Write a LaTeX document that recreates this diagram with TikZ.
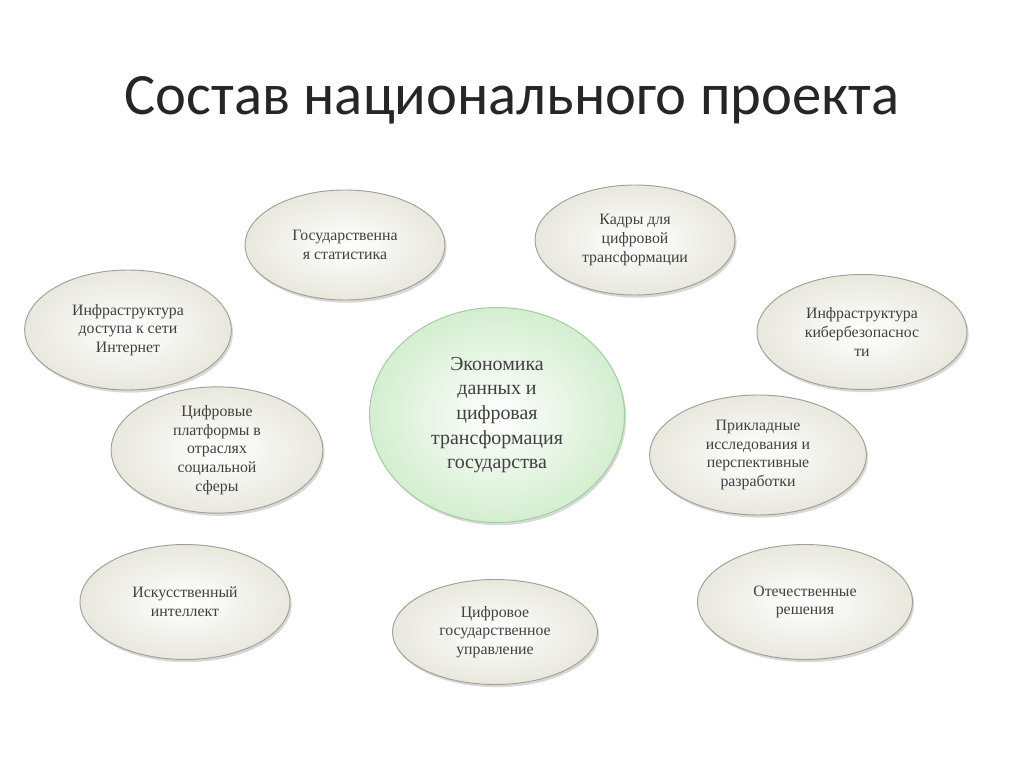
\documentclass[tikz,border=0pt]{standalone}
\usepackage{fontspec}
\setmainfont{Liberation Serif}
\newfontfamily\titlefont{Carlito}
\usetikzlibrary{shadows,shapes.geometric}
\definecolor{ebord}{RGB}{160,160,150}
\definecolor{efill}{RGB}{232,232,222}
\definecolor{gfill}{RGB}{212,238,208}
\definecolor{gbord}{RGB}{160,205,160}
\tikzset{
  oval/.style={ellipse,draw=ebord,line width=0.8pt,inner color=white,outer color=efill,
    drop shadow={shadow xshift=0.5mm,shadow yshift=-0.8mm,opacity=0.3},
    align=center,font=\fontsize{13.5pt}{16pt}\selectfont,text=black!75,inner sep=0pt},
}
\begin{document}
\begin{tikzpicture}[x=0.03cm,y=-0.03cm]
\useasboundingbox[fill=white] (0,0) rectangle (1024,767);
\node[font=\titlefont\fontsize{50pt}{54pt}\selectfont,text=black!85] (title) at (512,100) {Состав национального проекта};
\node[oval,minimum width=6cm,minimum height=3.3cm] (a) at (345,245) {Государственна\\я статистика};
\node[oval,minimum width=6cm,minimum height=3.3cm] (b) at (635,240) {Кадры для\\цифровой\\трансформации};
\node[oval,minimum width=6.2cm,minimum height=3.6cm] (c) at (128,330) {Инфраструктура\\доступа к сети\\Интернет};
\node[oval,minimum width=6.3cm,minimum height=3.45cm] (d) at (862,332) {Инфраструктура\\кибербезопаснос\\ти};
\node[oval,minimum width=7.65cm,minimum height=6.45cm,inner color=white,outer color=gfill,draw=gbord,font=\fontsize{17pt}{21pt}\selectfont] (e) at (497,415) {Экономика\\данных и\\цифровая\\трансформация\\государства};
\node[oval,minimum width=6.35cm,minimum height=3.6cm] (f) at (217,450) {Цифровые\\платформы в\\отраслях\\социальной\\сферы};
\node[oval,minimum width=6.5cm,minimum height=3.6cm] (g) at (758,455) {Прикладные\\исследования и\\перспективные\\разработки};
\node[oval,minimum width=6.3cm,minimum height=3.45cm] (h) at (185,602) {Искусственный\\интеллект};
\node[oval,minimum width=6.15cm,minimum height=3.15cm] (i) at (495,632) {Цифровое\\государственное\\управление};
\node[oval,minimum width=6.45cm,minimum height=3.45cm] (j) at (805,602) {Отечественные\\решения};
\end{tikzpicture}
\end{document}
